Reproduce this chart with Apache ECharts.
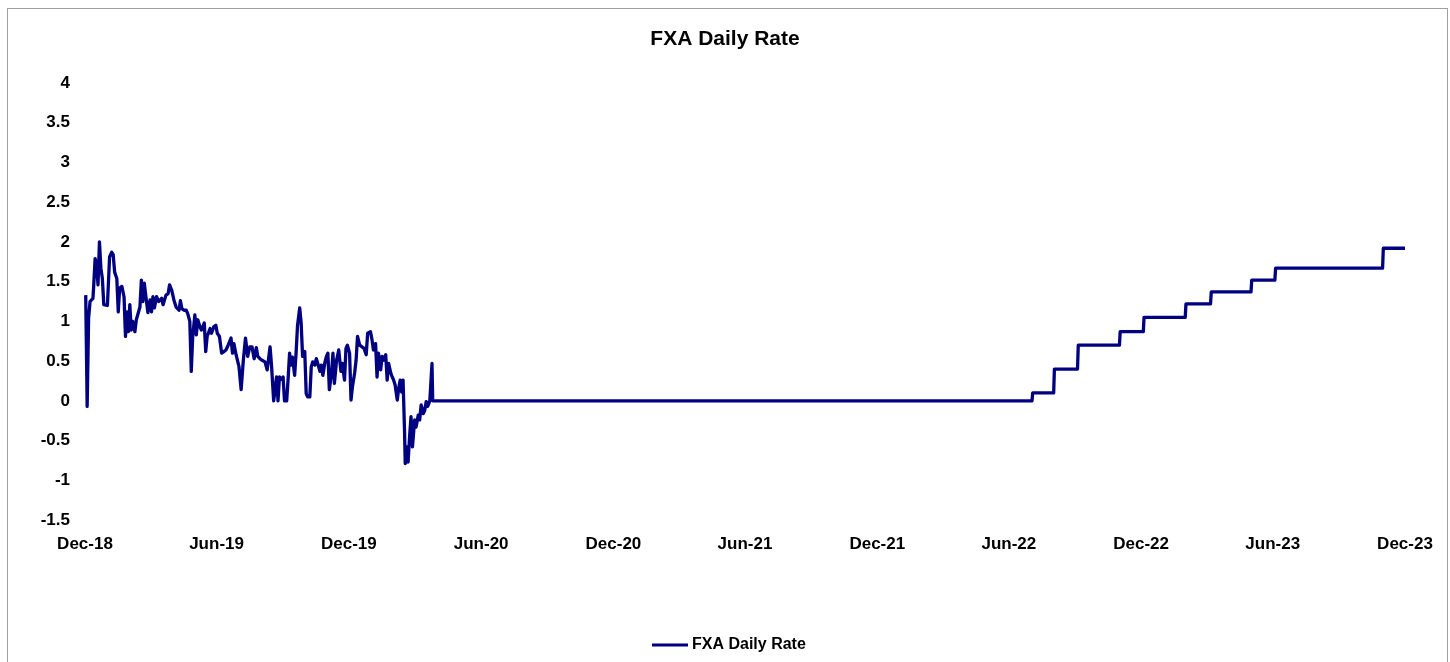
<!DOCTYPE html>
<html>
<head>
<meta charset="utf-8">
<script src="https://cdn.jsdelivr.net/npm/echarts@6/dist/echarts.min.js"></script>
<style>
html,body{margin:0;padding:0;background:#fff;}
#frame{position:absolute;left:7px;top:8px;width:1441px;height:700px;border:1px solid #a0a0a0;box-sizing:border-box;}
#chart{position:absolute;left:0;top:0;width:1450px;height:662px;}
</style>
</head>
<body>
<div id="frame"></div>
<div id="chart"></div>
<script>
// ---- data ----
const seriesName = 'FXA Daily Rate';
const tickDates = ['2018-12-01','2019-06-01','2019-12-01','2020-06-01','2020-12-01','2021-06-01','2021-12-01','2022-06-01','2022-12-01','2023-06-01','2023-12-01'];
const tickLabels = ['Dec-18','Jun-19','Dec-19','Jun-20','Dec-20','Jun-21','Dec-21','Jun-22','Dec-22','Jun-23','Dec-23'];
const dates = [
'2018-12-02','2018-12-04','2018-12-06','2018-12-08','2018-12-12','2018-12-13','2018-12-15','2018-12-17','2018-12-19','2018-12-21',
'2018-12-23','2018-12-25','2018-12-27','2019-01-01','2019-01-04','2019-01-07','2019-01-09','2019-01-11','2019-01-14','2019-01-16',
'2019-01-18','2019-01-21','2019-01-24','2019-01-26','2019-01-28','2019-01-30','2019-02-01','2019-02-03','2019-02-05','2019-02-08',
'2019-02-10','2019-02-12','2019-02-15','2019-02-17','2019-02-19','2019-02-21','2019-02-23','2019-02-26','2019-03-01','2019-03-03',
'2019-03-05','2019-03-07','2019-03-10','2019-03-13','2019-03-17','2019-03-19','2019-03-23','2019-03-26','2019-03-28','2019-03-31',
'2019-04-03','2019-04-06','2019-04-10','2019-04-12','2019-04-14','2019-04-17','2019-04-20','2019-04-22','2019-04-25','2019-04-27',
'2019-04-29','2019-05-02','2019-05-04','2019-05-06','2019-05-09','2019-05-11','2019-05-15','2019-05-17','2019-05-19','2019-05-23',
'2019-05-25','2019-05-28','2019-05-31','2019-06-02','2019-06-05','2019-06-08','2019-06-11','2019-06-14','2019-06-17','2019-06-21',
'2019-06-23','2019-06-25','2019-06-28','2019-07-02','2019-07-05','2019-07-08','2019-07-11','2019-07-14','2019-07-17','2019-07-20',
'2019-07-23','2019-07-26','2019-07-28','2019-07-31','2019-08-03','2019-08-07','2019-08-10','2019-08-12','2019-08-14','2019-08-16',
'2019-08-19','2019-08-21','2019-08-23','2019-08-25','2019-08-27','2019-08-30','2019-09-01','2019-09-03','2019-09-06','2019-09-08',
'2019-09-10','2019-09-12','2019-09-14','2019-09-17','2019-09-19','2019-09-21','2019-09-24','2019-09-26','2019-09-28','2019-10-01',
'2019-10-03','2019-10-05','2019-10-08','2019-10-10','2019-10-12','2019-10-15','2019-10-17','2019-10-19','2019-10-22','2019-10-24',
'2019-10-26','2019-10-29','2019-10-31','2019-11-02','2019-11-04','2019-11-07','2019-11-09','2019-11-11','2019-11-14','2019-11-17',
'2019-11-20','2019-11-22','2019-11-25','2019-11-27','2019-11-29','2019-12-02','2019-12-04','2019-12-06','2019-12-09','2019-12-11',
'2019-12-13','2019-12-16','2019-12-18','2019-12-22','2019-12-25','2019-12-27','2019-12-31','2020-01-02','2020-01-04','2020-01-07',
'2020-01-09','2020-01-11','2020-01-14','2020-01-16','2020-01-18','2020-01-21','2020-01-23','2020-01-25','2020-01-28','2020-01-30',
'2020-02-01','2020-02-03','2020-02-06','2020-02-08','2020-02-10','2020-02-12','2020-02-14','2020-02-16','2020-02-17','2020-02-19',
'2020-02-21','2020-02-23','2020-02-25','2020-02-27','2020-03-01','2020-03-03','2020-03-06','2020-03-08','2020-03-10','2020-03-13',
'2020-03-15','2020-03-17','2020-03-19','2020-03-22','2020-03-24','2020-03-25','2020-03-26',
'2022-07-03','2022-07-04','2022-08-02','2022-08-03','2022-09-04','2022-09-05','2022-11-01','2022-11-02','2022-12-04','2022-12-05',
'2023-01-31','2023-02-01','2023-03-07','2023-03-08','2023-05-02','2023-05-03','2023-06-04','2023-06-05','2023-10-31','2023-11-01','2023-12-01'
];
const rates = [
1.33,-0.07,1.04,1.25,1.29,1.44,1.79,1.71,1.46,2.00,
1.67,1.54,1.21,1.20,1.81,1.87,1.84,1.62,1.54,1.12,
1.42,1.44,1.31,0.81,1.12,0.87,1.21,0.89,1.00,0.87,
1.02,1.00,1.18,1.52,1.25,1.48,1.33,1.11,1.27,1.12,
1.31,1.17,1.31,1.25,1.29,1.21,1.33,1.35,1.46,1.39,
1.27,1.18,1.14,1.26,1.16,1.14,1.14,1.10,1.00,0.37,
0.81,1.08,0.83,1.02,0.93,0.89,0.98,0.62,0.81,0.91,
0.85,0.93,0.95,0.85,0.81,0.60,0.62,0.64,0.70,0.79,
0.60,0.72,0.58,0.43,0.14,0.51,0.79,0.56,0.68,0.68,
0.53,0.67,0.56,0.53,0.51,0.49,0.39,0.37,0.68,0.45,
0.00,0.00,0.30,0.00,0.30,0.27,0.30,0.00,0.00,0.28,
0.60,0.45,0.55,0.32,0.60,0.95,1.17,0.98,0.56,0.62,
0.09,0.05,0.05,0.43,0.49,0.45,0.53,0.47,0.37,0.45,
0.32,0.49,0.56,0.60,0.14,0.35,0.60,0.22,0.51,0.64,
0.37,0.47,0.26,0.66,0.70,0.60,0.01,0.18,0.35,0.51,
0.81,0.70,0.68,0.66,0.58,0.85,0.87,0.77,0.64,0.72,
0.30,0.60,0.39,0.56,0.51,0.58,0.26,0.47,0.35,0.30,
0.26,0.20,0.01,0.16,0.26,0.11,0.26,-0.37,-0.79,-0.58,
-0.77,-0.45,-0.20,-0.58,-0.24,-0.33,-0.18,-0.24,-0.05,-0.16,
-0.12,-0.01,-0.07,0.00,0.00,0.47,0.00,
0.00,0.10,0.10,0.40,0.40,0.70,0.70,0.87,0.87,1.05,
1.05,1.22,1.22,1.37,1.37,1.52,1.52,1.67,1.67,1.92,1.92
];
const yMin = -1.5, yMax = 4, yStep = 0.5;

// ---- build ----
function ts(s){ const p = s.split('-'); return Date.UTC(+p[0], +p[1]-1, +p[2]); }
const tickTs = tickDates.map(ts);
const labelMap = {};
tickTs.forEach((t,i)=>{ labelMap[t] = tickLabels[i]; });
const data = dates.map((d,i)=>[ts(d), rates[i]]);

const font = '"Liberation Sans", Arial, sans-serif';
const chart = echarts.init(document.getElementById('chart'), null, {renderer:'canvas'});
chart.setOption({
  animation:false,
  backgroundColor:'transparent',
  title:{
    text:'FXA Daily Rate', left:'center', top:24,
    textStyle:{fontFamily:font, fontWeight:'bold', fontSize:21, color:'#000'}
  },
  legend:{
    bottom:4, left:647,
    itemWidth:36, itemHeight:3, itemGap:4,
    textStyle:{fontFamily:font, fontWeight:'bold', fontSize:16, color:'#000', padding:[0,0,0,-1]},
    data:[{name:seriesName, icon:'rect'}]
  },
  grid:{left:85, right:45, top:83, bottom:142, containLabel:false},
  xAxis:{
    type:'value',
    min:tickTs[0], max:tickTs[tickTs.length-1],
    axisLine:{show:false}, axisTick:{show:false}, splitLine:{show:false},
    axisLabel:{
      customValues:tickTs,
      formatter:function(v){ return labelMap[v] || ''; },
      fontFamily:font, fontWeight:'bold', fontSize:17, color:'#000', margin:16,
      showMinLabel:true, showMaxLabel:true, hideOverlap:false
    }
  },
  yAxis:{
    type:'value', min:yMin, max:yMax, interval:yStep,
    axisLine:{show:false}, axisTick:{show:false}, splitLine:{show:false},
    axisLabel:{fontFamily:font, fontWeight:'bold', fontSize:17, color:'#000', margin:15}
  },
  series:[{
    name:seriesName, type:'line', data:data,
    showSymbol:false, symbol:'none',
    lineStyle:{color:'#000080', width:3.3, join:'round'},
    itemStyle:{color:'#000080'}
  }]
});
</script>
</body>
</html>
